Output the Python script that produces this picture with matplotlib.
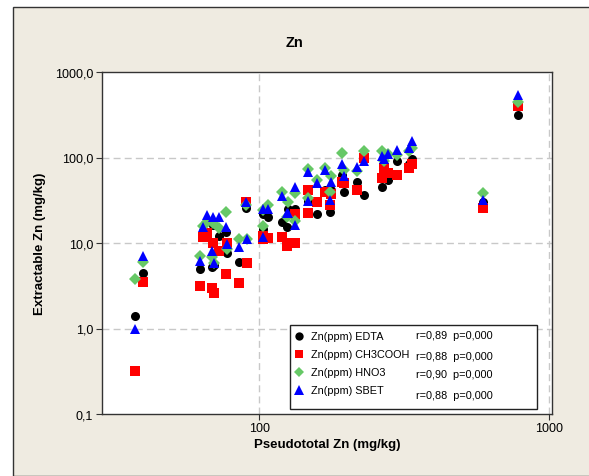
import matplotlib
matplotlib.use("Agg")
import matplotlib.pyplot as plt
from matplotlib.patches import Rectangle
from matplotlib.lines import Line2D
from matplotlib.ticker import FixedLocator, NullLocator
from matplotlib import font_manager

plt.rcParams['font.family'] = ['Liberation Sans', 'DejaVu Sans']
names = {f.name for f in font_manager.fontManager.ttflist}
narrow = ['Liberation Sans Narrow', 'Liberation Sans', 'DejaVu Sans'] if 'Liberation Sans Narrow' in names \
    else ['Liberation Sans', 'DejaVu Sans']
leg_size = 9 if 'Liberation Sans Narrow' in names else 7.8

# Pseudototal Zn (mg/kg) for each sample
pseudototal = [37.3, 39.8, 62.6, 64, 66, 69.4, 69, 70, 72.8, 76.9, 77.5, 85.3, 90.2, 90.5,
               103, 103.5, 107.4, 119.9, 124.9, 125.9, 133, 133.5, 147.5, 148, 158.5, 169,
               176, 176.5, 193, 197, 217.6, 230, 265.5, 270, 278.5, 299, 330, 337, 592, 781]
edta = [1.4, 4.5, 4.9, 14.0, 18, 16.4, 5.3, 5.5, 12, 13.3, 7.7, 6.0, 26, 6.0,
        14.4, 22, 20.4, 17.4, 15.2, 25, 25, 20, 22.7, 31, 22, 42,
        23, 42, 63, 40, 52, 36, 45, 72, 55, 90, 85, 95, 30, 310]
ch3cooh = [0.32, 3.5, 3.1, 11.9, 13, 10.1, 3.0, 2.6, 8.0, 4.3, 10, 3.45, 30, 5.8,
           11, 12, 11.3, 11.9, 9.3, 10.1, 10.1, 22, 42, 22.7, 30.5, 40,
           28, 37, 52, 50, 42, 100, 58, 76, 65, 63, 76, 83, 26, 395]
hno3 = [3.8, 6.0, 7.0, 16, 17.8, 17, 6.9, 5.8, 14.9, 23, 8.5, 11, 28, 11,
        15.6, 24, 28, 39, 20, 29.8, 38, 18, 74, 34, 55, 76,
        40, 60, 114, 70.5, 68.6, 118, 118, 90, 110, 108, 120, 130, 38, 440]
sbet = [1.0, 7.0, 6.1, 15.2, 21.5, 19.9, 8.0, 5.9, 19.9, 15.2, 9.8, 8.9, 30, 11,
        11.9, 25.3, 25.3, 35, 22.7, 22.7, 44.6, 16.4, 67, 31, 51, 70.5,
        32, 52, 85, 60, 78, 90, 103, 95, 110, 124, 130, 158, 31.6, 545]

series_labels = ['Zn(ppm) EDTA', 'Zn(ppm) CH3COOH', 'Zn(ppm) HNO3', 'Zn(ppm) SBET']
stats_labels = ['r=0,89  p=0,000', 'r=0,88  p=0,000', 'r=0,90  p=0,000', 'r=0,88  p=0,000']
y_ticks = [0.1, 1, 10, 100, 1000]
y_ticklabels = ['0,1', '1,0', '10,0', '100,0', '1000,0']
x_ticks = [100, 1000]
x_ticklabels = ['100', '1000']

colors = ['#000000', '#FF0000', '#66C866', '#0000FF']
markers = ['o', 's', 'D', '^']
msizes = [6.5, 6.5, 6.0, 7.5]
bg = '#EFEBE1'

fig = plt.figure(figsize=(5.89, 4.77), dpi=100)
fig.patch.set_facecolor('white')
panel = Rectangle((13/589, 0), 1, 1 - 8/477, transform=fig.transFigure,
                  facecolor=bg, edgecolor='#333333', linewidth=1.0, zorder=0)
fig.add_artist(panel)

ax = fig.add_axes([101.5/589, 1 - 415/477, (552-101.5)/589, (415-73)/477])
ax.set_facecolor('white')
ax.set_xscale('log')
ax.set_yscale('log')
ax.set_xlim(28.6, 1024)
ax.set_ylim(0.1, 1000)

for vals, c, m, ms in zip([edta, ch3cooh, hno3, sbet], colors, markers, msizes):
    ax.plot(pseudototal, vals, linestyle='none', marker=m, color=c,
            markersize=ms, markeredgewidth=0, zorder=3)

ax.xaxis.set_major_locator(FixedLocator(x_ticks))
ax.yaxis.set_major_locator(FixedLocator(y_ticks))
ax.xaxis.set_minor_locator(NullLocator())
ax.yaxis.set_minor_locator(NullLocator())
ax.set_xticklabels(x_ticklabels)
ax.set_yticklabels(y_ticklabels)
ax.tick_params(axis='both', labelsize=9, length=4, width=0.8, color='#333333', pad=2)

for y in [1, 10, 100]:
    ax.axhline(y, color='#C8C8C8', linestyle=(0, (5, 3)), linewidth=1.0, zorder=1)
for x in x_ticks:
    ax.axvline(x, color='#C8C8C8', linestyle=(0, (5, 3)), linewidth=1.0, zorder=1)

for s in ax.spines.values():
    s.set_color('#333333')
    s.set_linewidth(1.0)

ax.set_xlabel('Pseudototal Zn (mg/kg)', fontsize=9.5, fontweight='bold', labelpad=3)
ax.set_ylabel('Extractable Zn (mg/kg)', fontsize=9.5, fontweight='bold', labelpad=6)
fig.text(294/589, 1 - 43/477, 'Zn', ha='center', va='center', fontsize=10.5, fontweight='bold')

# legend box
lx0, ly0, lx1, ly1 = 290, 326, 537, 410
fig.add_artist(Rectangle((lx0/589, 1 - ly1/477), (lx1-lx0)/589, (ly1-ly0)/477,
                         transform=fig.transFigure, facecolor='white',
                         edgecolor='#222222', linewidth=1.0, zorder=5))
row_y = [337, 355, 373, 391]
stat_y = [336, 357, 375, 396]
for i in range(4):
    fig.add_artist(Line2D([299/589], [1 - row_y[i]/477], marker=markers[i], color=colors[i],
                          markersize=msizes[i] - 0.5, markeredgewidth=0, linestyle='none',
                          transform=fig.transFigure, zorder=6))
    fig.text(311/589, 1 - row_y[i]/477, series_labels[i], fontsize=leg_size, va='center',
             ha='left', zorder=6, family=narrow)
    fig.text(416/589, 1 - stat_y[i]/477, stats_labels[i], fontsize=leg_size, va='center',
             ha='left', zorder=6, family=narrow)

fig.savefig('out.png', dpi=100, facecolor=fig.get_facecolor())
